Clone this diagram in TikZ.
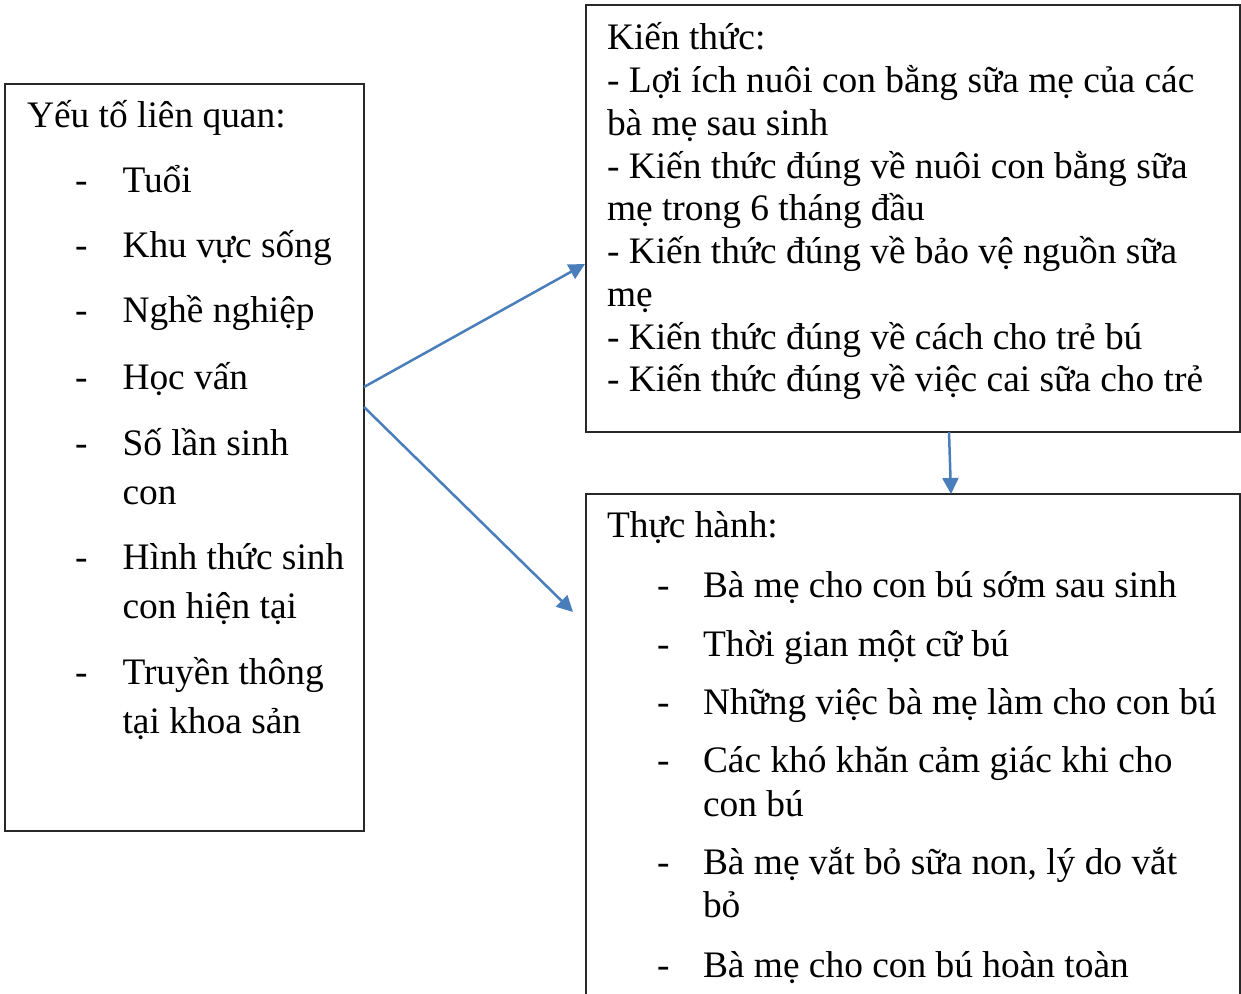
\documentclass[tikz,border=0pt]{standalone}
\usepackage{fontspec}
\setmainfont{Liberation Serif}
\usetikzlibrary{arrows.meta,calc}
\definecolor{arrowblue}{RGB}{74,126,187}
\definecolor{boxline}{RGB}{40,40,40}
\begin{document}
\begin{tikzpicture}[x=0.5pt,y=-0.5pt,
  boxst/.style={draw=boxline, line width=0.75pt, inner sep=0pt, outer sep=0pt},
  txt/.style={anchor=base west, inner sep=0pt, outer sep=0pt, font=\fontsize{18.7}{21.5}\selectfont},
  arr/.style={draw=arrowblue, line width=1.25pt, -{Triangle[length=8pt,width=8pt]}}]
\clip (0,0) rectangle (1241,994);
\fill[white] (0,0) rectangle (1241,994);
% boxes
\node[boxst, minimum width=179.5pt, minimum height=373.5pt] (L) at (184.5,457.5) {};
\node[boxst, minimum width=327pt, minimum height=213.5pt] (K) at (913,218.5) {};
\node[boxst, minimum width=327pt, minimum height=258pt] (T) at (913,752) {};
% left box text
\node[txt] (lt) at (27,128) {Yếu tố liên quan:};
\foreach \y [count=\i] in {193,258,323,389,455,569,684}
  \node[txt] (ld\i) at (75,\y) {-};
\foreach \y/\t [count=\i] in {193/Tuổi, 258/Khu vực sống, 323/Nghề nghiệp, 389/Học vấn, 455/Số lần sinh, 504/con, 569/Hình thức sinh, 618/con hiện tại, 684/Truyền thông, 733/tại khoa sản}
  \node[txt] (lx\i) at (122.5,\y) {\t};
% top right box text
\foreach \y/\t [count=\i] in {50/Kiến thức:, 92.75/- Lợi ích nuôi con bằng sữa mẹ của các, 135.5/bà mẹ sau sinh, 178.25/- Kiến thức đúng về nuôi con bằng sữa, 221/mẹ trong 6 tháng đầu, 263.75/- Kiến thức đúng về bảo vệ nguồn sữa, 306.5/mẹ, 349.25/- Kiến thức đúng về cách cho trẻ bú, 392/- Kiến thức đúng về việc cai sữa cho trẻ}
  \node[txt] (kx\i) at (607,\y) {\t};
% bottom right box text
\node[txt] (tt) at (607,537) {Thực hành:};
\foreach \y [count=\i] in {597,656,714,772,874,977}
  \node[txt] (td\i) at (657,\y) {-};
\foreach \y/\t [count=\i] in {597/Bà mẹ cho con bú sớm sau sinh, 656/Thời gian một cữ bú, 714/Những việc bà mẹ làm cho con bú, 772/Các khó khăn cảm giác khi cho, 816/con bú, 874/{Bà mẹ vắt bỏ sữa non, lý do vắt}, 917/bỏ, 977/Bà mẹ cho con bú hoàn toàn}
  \node[txt] (tx\i) at (703,\y) {\t};
% connectors
\coordinate (a1s) at ($(L.north east)+(0,303)$);
\coordinate (a2s) at ($(L.north east)+(0,323)$);
\coordinate (a1e) at ($(K.south west)+(-1,-168)$);
\coordinate (a2e) at ($(T.north west)+(-13,118)$);
\coordinate (a3s) at ($(K.south)+(36,0)$);
\coordinate (a3e) at ($(T.north)+(38,0)$);
\draw[arr] (a1s) -- (a1e);
\draw[arr] (a2s) -- (a2e);
\draw[arr] (a3s) -- (a3e);
\end{tikzpicture}
\end{document}
